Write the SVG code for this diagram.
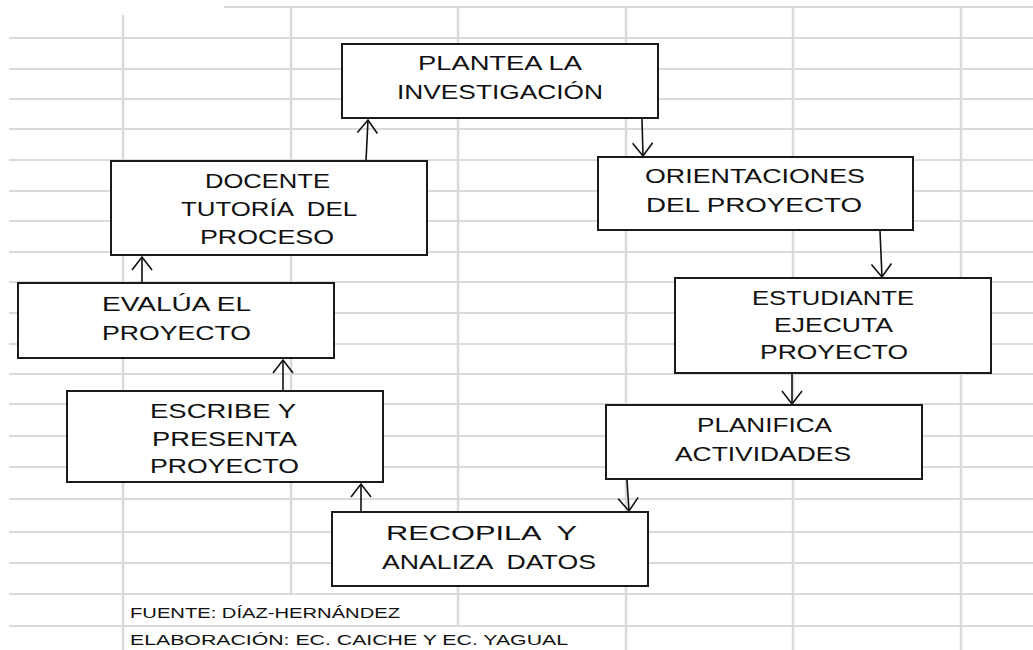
<svg xmlns="http://www.w3.org/2000/svg" width="1033" height="650" viewBox="0 0 1033 650">
<style>
.gh{stroke:#dadada;stroke-width:2;fill:none}
.gv{stroke:#dadada;stroke-width:2.5;fill:none}
.box{fill:#fff;stroke:#1a1a1a;stroke-width:2}
.t{font-family:"Liberation Sans",Arial,sans-serif;font-size:19.5px;fill:#111;white-space:pre}
.f{font-family:"Liberation Sans",Arial,sans-serif;font-size:14.5px;fill:#111;white-space:pre}
.c{stroke:#111;stroke-width:1.6;fill:none;marker-end:url(#ah)}
</style>
<defs>
<marker id="ah" markerUnits="userSpaceOnUse" markerWidth="16" markerHeight="24" refX="14" refY="11" orient="auto">
<path d="M1,1 L14,11 L1,21" fill="none" stroke="#111" stroke-width="1.6"/>
</marker>
</defs>
<rect width="1033" height="650" fill="#fff"/>
<g id="grid">
<path class="gh" d="M224,7H1033M9,38H1033M9,69H1033M9,99H1033M9,129H1033M9,160H1033M9,191H1033M9,221H1033M9,252H1033M9,282H1033M9,313H1033M9,344H1033M9,374H1033M9,404H1033M9,436H1033M9,467H1033M9,499H1033M9,532H1033M9,563H1033M9,594H1033M9,626H1033"/>
<path class="gv" d="M123,15V650M291,8V594M458,8V626M626,8V650M793,8V650M961,8V650"/>
</g>
<g id="connectors">
<line class="c" x1="366" y1="161" x2="368" y2="120"/>
<line class="c" x1="642" y1="119" x2="643" y2="156"/>
<line class="c" x1="880" y1="231" x2="882" y2="277"/>
<line class="c" x1="792" y1="374" x2="792" y2="404"/>
<line class="c" x1="627" y1="480" x2="629" y2="511"/>
<line class="c" x1="361" y1="511" x2="361" y2="484"/>
<line class="c" x1="283" y1="390" x2="283" y2="360"/>
<line class="c" x1="142" y1="282" x2="142" y2="257"/>
</g>
<g id="n1">
<rect class="box" x="342" y="44" width="316" height="74"/>
<text class="t" x="418" y="70" textLength="164" lengthAdjust="spacingAndGlyphs">PLANTEA LA</text>
<text class="t" x="397" y="99" textLength="206" lengthAdjust="spacingAndGlyphs">INVESTIGACIÓN</text>
</g>
<g id="n2">
<rect class="box" x="598" y="157" width="315" height="73"/>
<text class="t" x="645" y="183" textLength="220" lengthAdjust="spacingAndGlyphs">ORIENTACIONES</text>
<text class="t" x="646" y="212" textLength="216" lengthAdjust="spacingAndGlyphs">DEL PROYECTO</text>
</g>
<g id="n3">
<rect class="box" x="675" y="278" width="316" height="95"/>
<text class="t" x="752" y="305" textLength="162" lengthAdjust="spacingAndGlyphs">ESTUDIANTE</text>
<text class="t" x="774" y="332" textLength="119" lengthAdjust="spacingAndGlyphs">EJECUTA</text>
<text class="t" x="760" y="359" textLength="148" lengthAdjust="spacingAndGlyphs">PROYECTO</text>
</g>
<g id="n4">
<rect class="box" x="606" y="405" width="316" height="74"/>
<text class="t" x="697" y="432" textLength="135" lengthAdjust="spacingAndGlyphs">PLANIFICA</text>
<text class="t" x="675" y="461" textLength="176" lengthAdjust="spacingAndGlyphs">ACTIVIDADES</text>
</g>
<g id="n5">
<rect class="box" x="332" y="512" width="316" height="74"/>
<text class="t" x="386" y="540" textLength="191" lengthAdjust="spacingAndGlyphs">RECOPILA  Y</text>
<text class="t" x="382" y="569" textLength="214" lengthAdjust="spacingAndGlyphs">ANALIZA  DATOS</text>
</g>
<g id="n6">
<rect class="box" x="67" y="391" width="316" height="91"/>
<text class="t" x="150" y="418" textLength="146" lengthAdjust="spacingAndGlyphs">ESCRIBE Y</text>
<text class="t" x="152" y="446" textLength="145" lengthAdjust="spacingAndGlyphs">PRESENTA</text>
<text class="t" x="150" y="473" textLength="149" lengthAdjust="spacingAndGlyphs">PROYECTO</text>
</g>
<g id="n7">
<rect class="box" x="18" y="283" width="316" height="75"/>
<text class="t" x="102" y="311" textLength="149" lengthAdjust="spacingAndGlyphs">EVALÚA EL</text>
<text class="t" x="102" y="340" textLength="149" lengthAdjust="spacingAndGlyphs">PROYECTO</text>
</g>
<g id="n8">
<rect class="box" x="111" y="161" width="316" height="94"/>
<text class="t" x="205" y="188" textLength="125" lengthAdjust="spacingAndGlyphs">DOCENTE</text>
<text class="t" x="181" y="216" textLength="176" lengthAdjust="spacingAndGlyphs">TUTORÍA  DEL</text>
<text class="t" x="200" y="244" textLength="134" lengthAdjust="spacingAndGlyphs">PROCESO</text>
</g>
<g id="footer">
<text class="f" x="130" y="618" textLength="270" lengthAdjust="spacingAndGlyphs">FUENTE: DÍAZ-HERNÁNDEZ</text>
<text class="f" x="130" y="645" textLength="438" lengthAdjust="spacingAndGlyphs">ELABORACIÓN: EC. CAICHE Y EC. YAGUAL</text>
</g>
</svg>
